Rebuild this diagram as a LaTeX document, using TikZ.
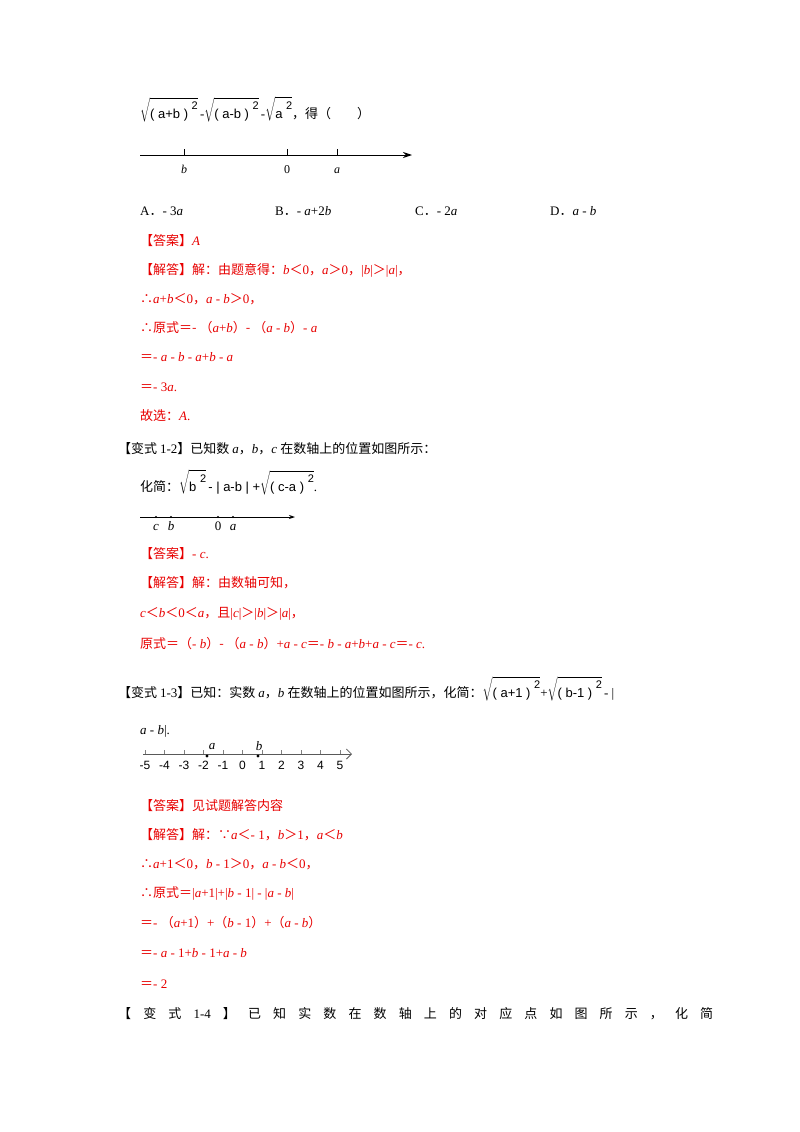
\documentclass[tikz,border=0pt]{standalone}
\usepackage{fontspec}
\setmainfont{Liberation Serif}
\newfontfamily\cjk{Noto Sans CJK SC}
\newfontfamily\sfm{Liberation Sans}
\usetikzlibrary{arrows.meta}
\definecolor{ans}{RGB}{232,0,0}
\newcommand{\rt}[1]{$\displaystyle\sqrt{\hbox{\sfm\fontsize{13}{15}\selectfont #1}}$}
\newcommand{\sq}{\raisebox{1.2ex}{\sfm\fontsize{11}{12}\selectfont 2}}
\begin{document}
\begin{tikzpicture}[x=1pt,y=-1pt,
  t/.style={anchor=base west,inner sep=0pt,font=\fontsize{13}{15}\selectfont},
  r/.style={t,text=ans},
  lbl/.style={anchor=base,inner sep=0pt,font=\fontsize{12}{14}\selectfont},
  axis/.style={line width=1pt,-{Stealth[length=9pt,width=6pt]}}]
\useasboundingbox (0,0) rectangle (800,1132);
\fill[white] (0,0) rectangle (800,1132);
% Problem 1
\node[t] (f1) at (140,118) {\rt{( a+b ) \sq}\,-\rt{( a-b ) \sq}\,-\rt{a \sq}{\cjk ，得（\quad\quad ）}};
\coordinate (s1) at (140,155); \coordinate (e1) at (412,155);
\draw[axis] (s1) -- (e1);
\foreach \x/\l in {184/\textit{b},287/0,337/\textit{a}}{\draw (\x,149) -- (\x,155); \node[lbl] at (\x,173) {\l};}
\node[t] (oa) at (140,215) {A{\cjk ．}- 3\textit{a}};
\node[t] (ob) at (275,215) {B{\cjk ．}- \textit{a}+2\textit{b}};
\node[t] (oc) at (415,215) {C{\cjk ．}- 2\textit{a}};
\node[t] (od) at (550,215) {D{\cjk ．}\textit{a} - \textit{b}};
\node[r] (a1) at (140,245) {\cjk【答案】\rmfamily\itshape A};
\node[r] (j1) at (140,274) {{\cjk【解答】解：由题意得：}\textit{b}{\cjk ＜}0{\cjk ，}\textit{a}{\cjk ＞}0{\cjk ，}|\textit{b}|{\cjk ＞}|\textit{a}|{\cjk ，}};
\node[r] at (140,303) {{\cjk ∴}\textit{a}+\textit{b}{\cjk ＜}0{\cjk ，}\textit{a} - \textit{b}{\cjk ＞}0{\cjk ，}};
\node[r] at (140,332) {{\cjk ∴原式＝- （}\textit{a}+\textit{b}{\cjk ）- （}\textit{a} - \textit{b}{\cjk ）}- \textit{a}};
\node[r] at (140,361) {{\cjk ＝}- \textit{a} - \textit{b} - \textit{a}+\textit{b} - \textit{a}};
\node[r] at (140,391) {{\cjk ＝}- 3\textit{a}.};
\node[r] at (140,420) {{\cjk 故选：}\textit{A}.};
% Problem 1-2
\node[t] at (118,453) {{\cjk【变式 }1-2{\cjk 】已知数 }\textit{a}{\cjk ，}\textit{b}{\cjk ，}\textit{c} {\cjk 在数轴上的位置如图所示：}};
\node[t] at (140,491) {{\cjk 化简：}\rt{b \sq}\,{\sfm - | a-b | +}\rt{( c-a ) \sq}.};
\draw[line width=0.9pt,-{Stealth[length=6pt,width=4pt]}] (140,517) -- (295,517);
\foreach \x/\l in {156/\textit{c},171/\textit{b},218/0,233/\textit{a}}{\fill (\x,517) circle (1.2pt); \node[lbl,font=\fontsize{13}{15}\selectfont] at (\x,530) {\l};}
\node[r] at (140,558) {{\cjk【答案】}- \textit{c}.};
\node[r] at (140,587) {\cjk【解答】解：由数轴可知，};
\node[r] at (140,617) {\textit{c}{\cjk ＜}\textit{b}{\cjk ＜}0{\cjk ＜}\textit{a}{\cjk ，且}|\textit{c}|{\cjk ＞}|\textit{b}|{\cjk ＞}|\textit{a}|{\cjk ，}};
\node[r] at (140,648) {{\cjk 原式＝（}- \textit{b}{\cjk ）- （}\textit{a} - \textit{b}{\cjk ）}+\textit{a} - \textit{c}{\cjk ＝}- \textit{b} - \textit{a}+\textit{b}+\textit{a} - \textit{c}{\cjk ＝}- \textit{c}.};
% Problem 1-3
\node[t] at (118,697) {{\cjk【变式 }1-3{\cjk 】已知：实数 }\textit{a}{\cjk ，}\textit{b} {\cjk 在数轴上的位置如图所示，化简：}\rt{( a+1 ) \sq}+\rt{( b-1 ) \sq}\,- |};
\node[t] at (140,734) {\textit{a} - \textit{b}|.};
\draw[gray!70!black,line width=0.8pt,-{Straight Barb[length=5pt]}] (143,754) -- (352,754);
\foreach \i in {-5,...,5}{\draw[gray] (242.5+19.5*\i,750) -- (242.5+19.5*\i,754);
  \node[anchor=base,inner sep=0pt,font=\sfm\fontsize{12}{13}\selectfont] at (242.5+19.5*\i,769) {\i};}
\fill (207,756) circle (1.6pt); \node[lbl,font=\itshape\fontsize{13}{14}\selectfont] at (212,749) {a};
\fill (258,756) circle (1.6pt); \node[lbl,font=\itshape\fontsize{13}{14}\selectfont] at (259,750) {b};
\node[r] at (140,810) {\cjk【答案】见试题解答内容};
\node[r] at (140,839) {{\cjk【解答】解：∵}\textit{a}{\cjk ＜}- 1{\cjk ，}\textit{b}{\cjk ＞}1{\cjk ，}\textit{a}{\cjk ＜}\textit{b}};
\node[r] at (140,868) {{\cjk ∴}\textit{a}+1{\cjk ＜}0{\cjk ，}\textit{b} - 1{\cjk ＞}0{\cjk ，}\textit{a} - \textit{b}{\cjk ＜}0{\cjk ，}};
\node[r] at (140,897) {{\cjk ∴原式＝}|\textit{a}+1|+|\textit{b} - 1| - |\textit{a} - \textit{b}|};
\node[r] at (140,927) {{\cjk ＝}- {\cjk （}\textit{a}+1{\cjk ）}+{\cjk （}\textit{b} - 1{\cjk ）}+{\cjk （}\textit{a} - \textit{b}{\cjk ）}};
\node[r] at (140,957) {{\cjk ＝}- \textit{a} - 1+\textit{b} - 1+\textit{a} - \textit{b}};
\node[r] at (140,988) {{\cjk ＝}- 2};
% Problem 1-4
\node[t,text width=595pt] at (118,1018) {\cjk 【\hfill 变\hfill 式\hfill \rmfamily 1-4\cjk\hfill 】\hfill 已\hfill 知\hfill 实\hfill 数\hfill 在\hfill 数\hfill 轴\hfill 上\hfill 的\hfill 对\hfill 应\hfill 点\hfill 如\hfill 图\hfill 所\hfill 示\hfill ，\hfill 化\hfill 简};
\end{tikzpicture}
\end{document}
